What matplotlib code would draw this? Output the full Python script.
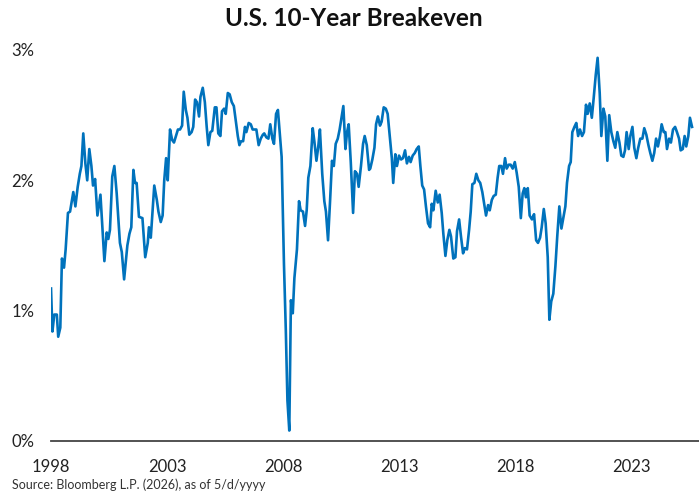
import matplotlib
matplotlib.use("Agg")
import matplotlib.pyplot as plt
from matplotlib.ticker import FuncFormatter

plt.rcParams['font.family'] = ['Lato', 'DejaVu Sans']

# decimal year positions (as drawn on the chart's axis) and breakeven rate in %
dates = [
    1998.00, 1998.06, 1998.14, 1998.25, 1998.31, 1998.40, 1998.47, 1998.56, 1998.63, 1998.73,
    1998.82, 1998.96, 1999.05, 1999.15, 1999.24, 1999.31, 1999.39, 1999.48, 1999.56, 1999.65,
    1999.74, 1999.81, 1999.90, 2000.00, 2000.13, 2000.30, 2000.40, 2000.47, 2000.54, 2000.64,
    2000.73, 2000.83, 2000.97, 2001.05, 2001.15, 2001.29, 2001.38, 2001.46, 2001.55, 2001.62,
    2001.69, 2001.79, 2001.94, 2002.06, 2002.17, 2002.22, 2002.30, 2002.45, 2002.56, 2002.63,
    2002.73, 2002.81, 2002.88, 2002.96, 2003.03, 2003.13, 2003.22, 2003.30, 2003.47, 2003.56,
    2003.65, 2003.72, 2003.81, 2003.88, 2003.96, 2004.06, 2004.13, 2004.21, 2004.29, 2004.38,
    2004.44, 2004.54, 2004.63, 2004.71, 2004.78, 2004.87, 2004.95, 2005.06, 2005.13, 2005.21,
    2005.30, 2005.37, 2005.46, 2005.53, 2005.62, 2005.70, 2005.79, 2005.88, 2005.96, 2006.05,
    2006.12, 2006.19, 2006.28, 2006.36, 2006.42, 2006.52, 2006.61, 2006.69, 2006.76, 2006.85,
    2006.95, 2007.04, 2007.13, 2007.19, 2007.28, 2007.37, 2007.45, 2007.54, 2007.61, 2007.70,
    2007.78, 2007.87, 2007.94, 2008.04, 2008.12, 2008.19, 2008.27, 2008.34, 2008.42, 2008.49,
    2008.60, 2008.69, 2008.76, 2008.86, 2008.95, 2009.02, 2009.09, 2009.18, 2009.28, 2009.35,
    2009.44, 2009.52, 2009.59, 2009.69, 2009.78, 2009.85, 2009.94, 2010.03, 2010.11, 2010.19,
    2010.27, 2010.36, 2010.44, 2010.51, 2010.60, 2010.69, 2010.76, 2010.83, 2010.92, 2011.02,
    2011.10, 2011.19, 2011.26, 2011.36, 2011.45, 2011.52, 2011.61, 2011.71, 2011.76, 2011.85,
    2011.94, 2012.01, 2012.09, 2012.18, 2012.25, 2012.34, 2012.43, 2012.51, 2012.60, 2012.69,
    2012.75, 2012.84, 2012.91, 2013.00, 2013.09, 2013.17, 2013.26, 2013.34, 2013.43, 2013.50,
    2013.59, 2013.68, 2013.76, 2013.85, 2013.92, 2014.00, 2014.08, 2014.16, 2014.25, 2014.34,
    2014.41, 2014.48, 2014.58, 2014.67, 2014.75, 2014.84, 2014.91, 2015.00, 2015.08, 2015.17,
    2015.24, 2015.34, 2015.43, 2015.50, 2015.59, 2015.67, 2015.76, 2015.84, 2015.93, 2016.02,
    2016.09, 2016.16, 2016.25, 2016.33, 2016.42, 2016.50, 2016.59, 2016.68, 2016.75, 2016.84,
    2016.91, 2017.00, 2017.08, 2017.17, 2017.25, 2017.32, 2017.41, 2017.48, 2017.57, 2017.64,
    2017.73, 2017.81, 2017.90, 2017.99, 2018.07, 2018.16, 2018.25, 2018.33, 2018.40, 2018.47,
    2018.55, 2018.63, 2018.73, 2018.82, 2018.91, 2018.99, 2019.08, 2019.15, 2019.24, 2019.32,
    2019.41, 2019.48, 2019.56, 2019.65, 2019.74, 2019.82, 2019.91, 2020.00, 2020.08, 2020.17,
    2020.24, 2020.33, 2020.40, 2020.47, 2020.56, 2020.64, 2020.72, 2020.80, 2020.89, 2020.97,
    2021.06, 2021.13, 2021.22, 2021.31, 2021.39, 2021.48, 2021.56, 2021.65, 2021.72, 2021.81,
    2021.89, 2021.98, 2022.06, 2022.15, 2022.24, 2022.32, 2022.41, 2022.50, 2022.58, 2022.67,
    2022.74, 2022.81, 2022.90, 2022.97, 2023.06, 2023.14, 2023.23, 2023.31, 2023.40, 2023.49,
    2023.57, 2023.66, 2023.75, 2023.83, 2023.92, 2024.00, 2024.08, 2024.16, 2024.25, 2024.32,
    2024.41, 2024.48, 2024.55, 2024.64, 2024.72, 2024.81, 2024.90, 2024.98, 2025.07, 2025.14,
    2025.23, 2025.31, 2025.38, 2025.47, 2025.54, 2025.63,
]
breakeven = [
    1.17, 0.84, 0.97, 0.97, 0.80, 0.87, 1.40, 1.33, 1.47, 1.75,
    1.76, 1.91, 1.80, 1.95, 2.05, 2.11, 2.36, 2.13, 2.00, 2.24,
    2.11, 1.96, 2.01, 1.73, 1.89, 1.38, 1.60, 1.55, 1.62, 2.03,
    2.11, 1.90, 1.52, 1.45, 1.24, 1.50, 1.59, 1.64, 2.08, 1.98,
    1.98, 1.72, 1.71, 1.41, 1.52, 1.64, 1.56, 1.96, 1.85, 1.76,
    1.68, 1.73, 2.00, 2.17, 2.00, 2.39, 2.31, 2.29, 2.39, 2.39,
    2.42, 2.68, 2.54, 2.48, 2.35, 2.37, 2.41, 2.62, 2.60, 2.49,
    2.64, 2.71, 2.60, 2.41, 2.27, 2.37, 2.38, 2.56, 2.56, 2.36,
    2.34, 2.53, 2.55, 2.51, 2.67, 2.66, 2.60, 2.57, 2.46, 2.34,
    2.27, 2.30, 2.30, 2.41, 2.37, 2.44, 2.43, 2.39, 2.39, 2.39,
    2.27, 2.32, 2.35, 2.36, 2.33, 2.32, 2.43, 2.32, 2.28, 2.51,
    2.54, 2.34, 2.18, 1.36, 0.85, 0.31, 0.08, 1.08, 0.98, 1.25,
    1.47, 1.84, 1.77, 1.76, 1.65, 1.77, 2.02, 2.11, 2.40, 2.30,
    2.15, 2.26, 2.39, 2.05, 1.84, 1.76, 1.54, 1.85, 2.15, 2.11,
    2.28, 2.32, 2.39, 2.47, 2.57, 2.24, 2.37, 2.43, 2.14, 1.75,
    2.07, 2.05, 1.95, 2.11, 2.28, 2.34, 2.27, 2.08, 2.09, 2.16,
    2.25, 2.43, 2.49, 2.42, 2.45, 2.56, 2.55, 2.51, 2.34, 2.17,
    1.98, 2.20, 2.11, 2.19, 2.16, 2.17, 2.23, 2.13, 2.18, 2.14,
    2.19, 2.21, 2.24, 2.26, 2.11, 1.96, 1.93, 1.80, 1.67, 1.64,
    1.82, 1.77, 1.92, 1.83, 1.89, 1.75, 1.59, 1.42, 1.54, 1.62,
    1.57, 1.40, 1.41, 1.61, 1.70, 1.57, 1.44, 1.48, 1.47, 1.62,
    1.76, 1.97, 1.98, 2.05, 2.00, 1.98, 1.91, 1.81, 1.73, 1.81,
    1.77, 1.85, 1.88, 1.89, 2.02, 2.11, 2.11, 2.05, 2.17, 2.09,
    2.12, 2.12, 2.09, 2.14, 2.06, 1.95, 1.71, 1.90, 1.94, 1.87,
    1.94, 1.73, 1.70, 1.74, 1.54, 1.52, 1.56, 1.64, 1.78, 1.67,
    1.41, 0.93, 1.07, 1.13, 1.34, 1.57, 1.80, 1.63, 1.71, 1.80,
    1.98, 2.11, 2.14, 2.37, 2.41, 2.44, 2.34, 2.39, 2.34, 2.37,
    2.58, 2.51, 2.59, 2.48, 2.63, 2.81, 2.94, 2.67, 2.34, 2.55,
    2.49, 2.15, 2.50, 2.37, 2.30, 2.25, 2.37, 2.29, 2.19, 2.18,
    2.23, 2.37, 2.24, 2.34, 2.41, 2.25, 2.17, 2.25, 2.32, 2.32,
    2.40, 2.35, 2.27, 2.21, 2.15, 2.21, 2.32, 2.26, 2.34, 2.43,
    2.37, 2.37, 2.24, 2.32, 2.29, 2.39, 2.41, 2.37, 2.32, 2.23,
    2.24, 2.34, 2.26, 2.34, 2.48, 2.41,
]

year_ticks = [1998, 2003, 2008, 2013, 2018, 2023]
pct_ticks = [0, 1, 2, 3]

fig = plt.figure(figsize=(6.99, 4.97), dpi=100)
ax = fig.add_axes([0.073, 0.1127, 0.927, 0.7867])

ax.plot(dates, breakeven, color="#0072bc", linewidth=1.9, solid_joinstyle="round")

ax.set_xlim(1998.0, 2025.93)
ax.set_ylim(0, 3)
ax.set_xticks(year_ticks)
ax.set_xticklabels([str(y) for y in year_ticks])
ax.set_yticks(pct_ticks)
ax.yaxis.set_major_formatter(FuncFormatter(lambda v, p: f"{v:.0f}%"))

for s in ["top", "right", "left"]:
    ax.spines[s].set_visible(False)
ax.spines["bottom"].set_color("#444444")
ax.spines["bottom"].set_linewidth(1.3)
ax.tick_params(axis="both", length=0, labelsize=12, colors="#222222")
ax.tick_params(axis="x", pad=13)
ax.tick_params(axis="y", pad=12)

fig.text(0.506, 0.962, "U.S. 10-Year Breakeven", ha="center", va="center",
         fontsize=17.5, fontweight="bold", color="#111111")
fig.text(0.017, 0.012, "Source: Bloomberg L.P. (2026), as of 5/d/yyyy", ha="left",
         va="bottom", fontsize=9, color="#333333")

fig.savefig("out.png", dpi=100)
